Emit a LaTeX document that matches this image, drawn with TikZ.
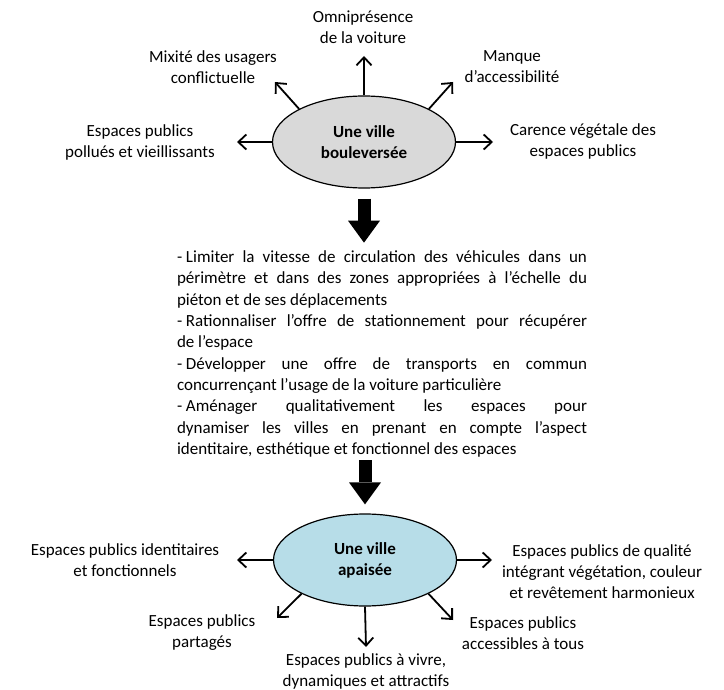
\documentclass[tikz,border=0pt]{standalone}
\usepackage{fontspec}
\setmainfont{Carlito}
\usetikzlibrary{arrows.meta,positioning,shapes.geometric,calc}
\definecolor{grisville}{RGB}{217,217,217}
\definecolor{bleuville}{RGB}{183,221,232}
\newcommand{\tiret}{-\hspace{3.8pt}}

\begin{document}
\begin{tikzpicture}[x=1pt,y=-1pt,
  font=\fontsize{17}{21}\selectfont,
  >={Straight Barb[length=8pt,width=15pt]},
  ville/.style={draw,ellipse,line width=1.2pt,align=center,font=\fontsize{17}{21}\selectfont\bfseries,
                minimum width=183pt,minimum height=92pt,inner sep=0pt},
  lbl/.style={align=center,inner sep=0pt},
  plan/.style={text width=410pt,align=justify,inner sep=0pt,font=\fontsize{17}{21.3}\selectfont},
  fl/.style={->,line width=1.8pt},
  bloc/.style={line width=13pt,-{Triangle[length=22pt,width=32pt,line width=0pt]}}
]
\useasboundingbox (0,0) rectangle (724,690);

% ville bouleversee
\node[ville,fill=grisville] (haut) at (364,142) {Une ville\\bouleversée};
\node[lbl] (omni) at (363,27) {Omniprésence\\de la voiture};
\node[lbl] (mixite) at (213,67) {Mixité des usagers\\conflictuelle};
\node[lbl] (manque) at (512,67) {Manque\\d’accessibilité};
\node[lbl] (pollue) at (140,142) {Espaces publics\\pollués et vieillissants};
\node[lbl] (carence) at (583,141) {Carence végétale des\\espaces publics};
\coordinate (p-omni) at (364,56);
\coordinate (p-mixite) at (275,82);
\coordinate (p-manque) at (453,82);
\coordinate (p-pollue) at (237,142);
\coordinate (p-carence) at (493,142);
\draw[fl] (haut.north) -- (p-omni);
\draw[fl] (haut.153) -- (p-mixite);
\draw[fl] (haut.27) -- (p-manque);
\draw[fl] (haut.west) -- (p-pollue);
\draw[fl] (haut.east) -- (p-carence);

% mesures
\node[plan] (plan) at (382,354) {\hyphenpenalty=10000 \tolerance=10000
\tiret Limiter la vitesse de circulation des véhicules dans un\linebreak
périmètre et dans des zones appropriées à l’échelle du\linebreak
piéton et de ses déplacements\newline
\tiret Rationnaliser l’offre de stationnement pour récupérer\linebreak
de l’espace\newline
\tiret Développer une offre de transports en commun\linebreak
concurrençant l’usage de la voiture particulière\newline
\tiret Aménager qualitativement les espaces pour\linebreak
dynamiser les villes en prenant en compte l’aspect\linebreak
identitaire, esthétique et fonctionnel des espaces\par};
\draw[bloc,shorten <=10pt,shorten >=8pt] (haut.south) -- (haut.south |- plan.north);

% ville apaisee
\node[ville,fill=bleuville] (bas) at (365,560) {Une ville\\apaisée};
\draw[bloc,shorten <=3pt,shorten >=9pt] (bas.north |- plan.south) -- (bas.north);
\node[lbl] (identit) at (125,560) {Espaces publics identitaires\\et fonctionnels};
\node[lbl] (qualite) at (602,572) {Espaces publics de qualité\\intégrant végétation, couleur\\et revêtement harmonieux};
\node[lbl] (partage) at (202,633) {Espaces publics\\partagés};
\node[lbl] (access) at (523,633) {Espaces publics\\accessibles à tous};
\node[lbl] (vivre) at (366,671) {Espaces publics à vivre,\\dynamiques et attractifs};
\coordinate (p-identit) at (237,560);
\coordinate (p-qualite) at (492,560);
\coordinate (p-partage) at (277,618);
\coordinate (p-access) at (453,620);
\coordinate (p-vivre) at (366,647);
\draw[fl] (bas.west) -- (p-identit);
\draw[fl] (bas.east) -- (p-qualite);
\draw[fl] (bas.208) -- (p-partage);
\draw[fl] (bas.332) -- (p-access);
\draw[fl] (bas.south) -- (p-vivre);
\end{tikzpicture}
\end{document}
